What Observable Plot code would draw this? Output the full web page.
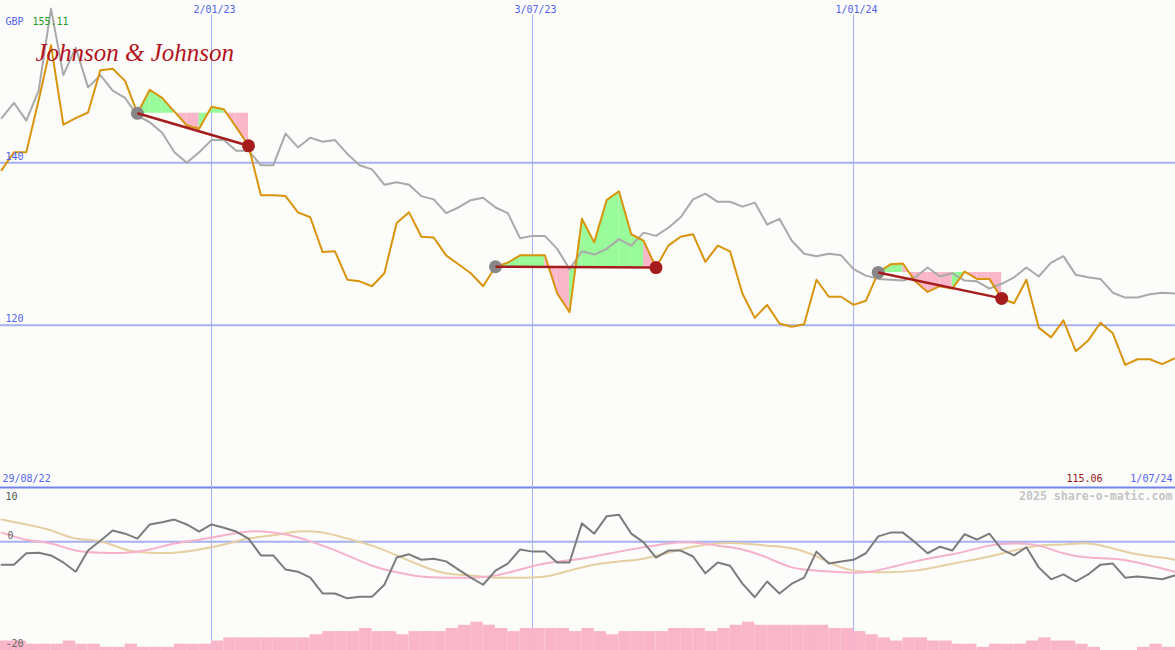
<!DOCTYPE html>
<html><head><meta charset="utf-8">
<script src="https://cdn.jsdelivr.net/npm/d3@7"></script>
<script src="https://cdn.jsdelivr.net/npm/@observablehq/plot@0.6"></script>
<style>
html,body{margin:0;padding:0;background:#fcfdfa;}
#chart{position:relative;width:1175px;height:650px;overflow:hidden;background:#fcfdfa;}
#chart svg{position:absolute;left:0;}
</style></head><body><div id="chart"></div>
<script>
// ---- data (weekly closes starting 2022-09-05) ----
const startDate = "2022-09-05";
const price = [139.1,141.3,141.3,147.7,154.5,144.7,145.5,146.2,151.4,151.6,
 150.1,146.1,149.0,148.0,146.3,144.6,144.2,146.9,146.6,144.4,
 142.1,136.0,136.0,135.9,133.9,133.3,129.0,129.1,125.6,125.4,
 124.8,126.4,132.6,133.9,130.9,130.8,128.6,127.5,126.4,124.8,
 127.2,127.7,128.6,128.6,128.6,123.9,121.6,133.1,130.2,135.4,
 136.5,131.2,130.4,127.1,129.8,130.9,131.2,127.8,129.8,129.1,
 123.9,120.9,122.5,120.2,119.8,120.1,125.6,123.5,123.5,122.5,
 123.0,126.5,127.5,127.6,125.4,124.1,124.8,124.5,126.6,125.7,
 125.7,123.3,122.7,125.6,119.7,118.5,120.6,116.8,118.1,120.3,
 119.0,115.1,115.8,115.8,115.2,115.9];
const relative = [145.5,147.4,145.2,148.9,159.0,150.8,154.2,149.3,150.8,148.9,
 148.0,145.8,145.0,143.7,141.3,140.0,141.3,142.8,142.8,141.5,
 141.5,139.7,139.7,143.6,141.9,143.1,142.6,142.8,141.1,139.7,
 139.2,137.3,137.6,137.3,135.9,135.5,133.8,134.5,135.4,135.7,
 134.5,133.8,130.7,131.0,131.0,129.4,126.9,129.1,128.7,129.4,
 130.6,129.8,131.4,131.0,132.0,133.3,135.5,136.2,135.2,135.2,
 134.6,135.1,132.4,133.1,130.4,128.8,128.5,128.8,128.6,126.9,
 126.1,125.7,125.6,125.5,125.9,127.1,126.0,126.4,125.5,125.4,
 124.5,125.1,125.9,127.1,126.0,127.7,128.5,126.2,125.9,125.7,
 124.0,123.4,123.4,123.8,124.0,123.9];
const momentum = [-4.2,-4.2,-2.1,-2.0,-2.5,-3.8,-5.5,-1.6,0.2,2.1,
 1.5,0.6,3.2,3.6,4.1,3.2,1.9,3.2,2.6,1.9,
 0.6,-2.5,-2.5,-5.1,-5.5,-6.6,-9.5,-9.5,-10.4,-10.1,
 -10.1,-7.9,-2.9,-2.3,-3.3,-3.1,-3.6,-5.1,-6.6,-7.9,
 -5.3,-4.0,-1.4,-1.8,-1.8,-3.8,-3.8,3.4,1.5,4.7,
 5.0,1.5,-0.1,-2.9,-1.6,-1.6,-2.7,-5.8,-3.8,-4.4,
 -7.7,-10.2,-7.3,-9.5,-7.7,-6.6,-1.8,-4.0,-3.6,-3.3,
 -2.1,1.0,1.7,1.7,-0.1,-2.1,-0.9,-1.6,1.4,0.4,
 1.5,-1.4,-2.5,-1.0,-4.7,-6.9,-6.0,-7.3,-6.0,-4.2,
 -4.0,-6.6,-6.4,-6.6,-6.9,-6.2];
const maWeeks = [0,2,4,6,8,10,12,14,16,18,20,22,24,26,28,30,32,34,36,38,40,42,44,46,48,
 50,52,54,56,58,60,62,64,66,68,70,72,74,76,78,80,82,84,86,88,90,92,94,95];
const maFast = [1.7,0.4,-0.3,-1.6,-2.0,-2.0,-1.4,-0.3,0.4,1.2,
 1.9,1.7,0.8,-0.7,-2.5,-4.4,-5.6,-6.4,-6.6,-6.6,
 -6.2,-5.1,-4.0,-3.4,-2.7,-1.8,-1.0,-0.3,-0.1,-0.7,
 -1.4,-2.9,-4.7,-5.3,-5.6,-5.6,-4.7,-3.6,-2.7,-1.8,
 -0.7,-0.3,-0.7,-2.1,-2.9,-3.1,-3.8,-4.9,-5.5];
const maSlow = [4.1,3.2,2.1,0.6,0.1,-1.4,-2.0,-2.0,-1.4,-0.5,
 0.6,1.2,1.9,1.7,0.6,-0.7,-2.5,-4.4,-5.8,-6.2,
 -6.6,-6.6,-6.4,-5.3,-4.2,-3.6,-3.1,-2.0,-0.9,-0.3,
 -0.3,-0.7,-1.2,-2.7,-4.7,-5.5,-5.6,-5.3,-4.5,-3.6,
 -2.7,-1.6,-0.7,-0.5,-0.3,-1.2,-2.3,-2.9,-3.3];
const volume = [3,3,2,2,2,3,2,2,1,1,
 2,1,1,1,2,2,2,3,4,4,
 4,4,4,4,4,5,6,6,6,7,
 6,6,5,6,6,6,7,8,9,8,
 7,6,7,7,7,7,6,7,6,5,
 6,6,6,6,7,7,7,6,7,8,
 9,8,8,8,8,8,8,7,7,6,
 5,4,3,4,4,3,3,2,2,1,
 2,2,2,3,4,3,3,2,1,0,
 0,0,1,2,1,1];
const tradeStarts = [11,40,71];
const tradeEnds = [20,53,81];
const gridDates = ["2023-01-02","2023-07-03","2024-01-01"];
const gridLabels = ["2/01/23","3/07/23","1/01/24"];
const priceTicks = [140,120];
const momTicks = [10,0,-20];
const currency = "GBP", highLabel = "155.11", lowLabel = "115.06";
const firstLabel = "29/08/22", lastLabel = "1/07/24";

// ---- build tables ----
const t0 = new Date(startDate + "T00:00Z");
const dates = price.map((_, k) => d3.utcDay.offset(t0, 7 * k));
const rows = price.map((p, k) => ({date: dates[k], price: p, rel: relative[k], mom: momentum[k]}));
const maRows = maWeeks.map((k, i) => ({date: dates[k], fast: maFast[i], slow: maSlow[i]}));
const xDomain = [new Date("2022-09-04T09:00Z"), new Date("2024-07-01T13:00Z")];
const volRows = volume.map((v, k) => ({d0: k === 0 ? xDomain[0] : dates[k], d1: k < volume.length - 1 ? dates[k + 1] : xDomain[1], v}));
const gDates = gridDates.map(d => new Date(d + "T00:00Z"));

const GREEN = "#98fa98", PINK = "#f9b7c9";
const fillRows = [];
const tradeRows = [];
tradeStarts.forEach((s, t) => {
  const e = tradeEnds[t], base = price[s];
  tradeRows.push({d0: dates[s], p0: price[s], d1: dates[e], p1: price[e]});
  for (let i = s; i < e; i++) {
    const fill = price[i + 1] >= base ? GREEN : PINK;
    const seg = t + "-" + i;
    fillRows.push({date: dates[i], base, value: price[i], seg, fill});
    fillRows.push({date: dates[i + 1], base, value: price[i + 1], seg, fill});
  }
});

const MONO = "DejaVu Sans Mono";
const BLUE_TXT = "#5162ee", GRID = "#a6b0f1";
const lbl = (text, o) => Plot.text([text], {text: d => d, fontFamily: MONO, fontSize: 10, lineAnchor: "middle", textAnchor: "start", ...o});

const upper = Plot.plot({
  width: 1175, height: 490, marginTop: 0, marginLeft: 0, marginRight: 0, marginBottom: 3,
  x: {type: "utc", domain: xDomain, axis: null},
  y: {domain: [100, 160], axis: null},
  color: {type: "identity"},
  style: {background: "transparent", overflow: "visible"},
  marks: [
    Plot.ruleY(priceTicks, {stroke: GRID, strokeWidth: 2}),
    Plot.ruleX(gDates, {y1: 100, y2: 158.2, stroke: GRID, strokeWidth: 1}),
    Plot.area(fillRows, {x1: "date", y1: "base", y2: "value", z: "seg", fill: "fill", curve: "linear"}),
    Plot.line(rows, {x: "date", y: "rel", stroke: "#a9a9a9", strokeWidth: 2}),
    Plot.line(rows, {x: "date", y: "price", stroke: "#d8940c", strokeWidth: 2}),
    Plot.dot(tradeRows, {x: "d0", y: "p0", r: 6.5, fill: "#878787"}),
    Plot.link(tradeRows, {x1: "d0", y1: "p0", x2: "d1", y2: "p1", stroke: "#a51c1c", strokeWidth: 2.5}),
    Plot.dot(tradeRows, {x: "d1", y: "p1", r: 6.5, fill: "#a51c1c"}),
    Plot.ruleY([100], {stroke: "#7383ec", strokeWidth: 2}),
    Plot.text(gDates, {x: d => d, text: (d, i) => gridLabels[i], frameAnchor: "top", lineAnchor: "middle", dy: 9, dx: 3, fill: BLUE_TXT, fontFamily: MONO, fontSize: 10}),
    Plot.text(priceTicks, {y: d => d, text: d => String(d), frameAnchor: "left", textAnchor: "start", lineAnchor: "middle", dx: 5, dy: -6, fill: BLUE_TXT, fontFamily: MONO, fontSize: 10}),
    lbl(currency, {frameAnchor: "top-left", dx: 5, dy: 21, fill: BLUE_TXT}),
    lbl(highLabel, {frameAnchor: "top-left", dx: 32, dy: 21, fill: "#1f9e1f"}),
    lbl(firstLabel, {frameAnchor: "bottom-left", dx: 2, dy: -9, fill: BLUE_TXT}),
    lbl(lastLabel, {frameAnchor: "bottom-right", dx: -3, dy: -9, textAnchor: "end", fill: BLUE_TXT}),
    lbl(lowLabel, {frameAnchor: "bottom-right", dx: -73, dy: -9, textAnchor: "end", fill: "#991414"}),
    Plot.text(["Johnson & Johnson"], {text: d => d, frameAnchor: "top-left", dx: 35, dy: 52, textAnchor: "start", lineAnchor: "middle",
      fontFamily: "Liberation Serif", fontStyle: "italic", fontSize: 25, fill: "#b3131d"})
  ]
});
upper.style.top = "0px";

const volUnit = 0.58;
const tickText = (v, dx, dy, fill) => Plot.text([v], {y: d => d, text: d => String(d), frameAnchor: "left", textAnchor: "start",
  lineAnchor: "middle", dx, dy, fill, fontFamily: MONO, fontSize: 10});
const lower = Plot.plot({
  width: 1175, height: 163, margin: 0,
  x: {type: "utc", domain: xDomain, axis: null},
  y: {domain: [-20, 10], axis: null},
  style: {background: "transparent", overflow: "visible"},
  marks: [
    Plot.ruleX(gDates, {stroke: GRID, strokeWidth: 1}),
    Plot.ruleY([0], {stroke: GRID, strokeWidth: 2}),
    Plot.line(maRows, {x: "date", y: "slow", stroke: "#e5cfa3", strokeWidth: 2, curve: "natural"}),
    Plot.line(maRows, {x: "date", y: "fast", stroke: "#f6b1cb", strokeWidth: 2, curve: "natural"}),
    Plot.line(rows, {x: "date", y: "mom", stroke: "#7c7c7c", strokeWidth: 2}),
    Plot.rect(volRows.filter(d => d.v > 0), {x1: "d0", x2: "d1", y1: -20, y2: d => -20 + d.v * volUnit, fill: "#f9b5c9"}),
    tickText(momTicks[0], 5, 9, "#555"),
    tickText(momTicks[1], 7, -6, "#666"),
    tickText(momTicks[2], 5, -7, "#666"),
    lbl("2025 share-o-matic.com", {frameAnchor: "top-right", dx: -3, dy: 9, textAnchor: "end", fill: "#c4c4c4", fontSize: 11.6, fontWeight: "bold"})
  ]
});
lower.style.top = "487px";

const c = document.getElementById("chart");
c.appendChild(upper);
c.appendChild(lower);
</script></body></html>
